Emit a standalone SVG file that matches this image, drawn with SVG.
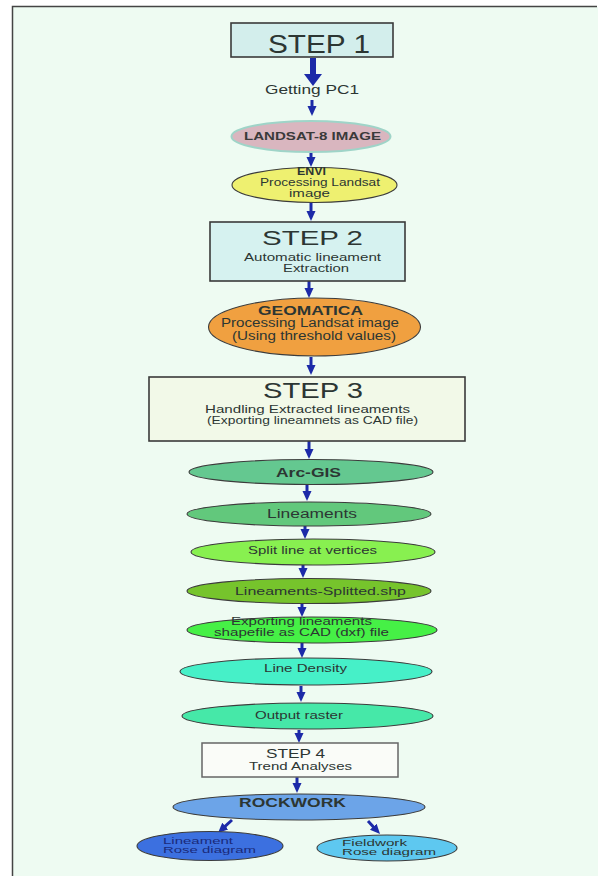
<svg xmlns="http://www.w3.org/2000/svg" width="598" height="876" viewBox="0 0 598 876">
<defs>
<style>
text{font-family:"Liberation Sans",Arial,sans-serif;fill:#2c3633}
.b{font-weight:bold}
.box{stroke:#3a3a3a;stroke-width:1.6}
.el{stroke:#3c3c3c;stroke-width:1.1}
.arr{stroke:#1c2aa8;stroke-width:3;fill:none;marker-end:url(#ah)}
</style>
<marker id="ah" markerUnits="userSpaceOnUse" markerWidth="10" markerHeight="10" refX="3" refY="4.5" orient="auto"><path d="M0,0 L10,4.5 L0,9 z" fill="#1c2aa8"/></marker>
<marker id="ahBig" markerUnits="userSpaceOnUse" markerWidth="14" markerHeight="20" refX="3" refY="9" orient="auto"><path d="M0,0 L12,9 L0,18 z" fill="#1c2aa8"/></marker>
</defs>
<rect x="0" y="0" width="598" height="876" fill="#ffffff"/>
<rect x="13" y="7" width="585" height="869" fill="#eefbf2"/>
<path d="M12.5,876 L12.5,6.5 L597,6.5" fill="none" stroke="#444" stroke-width="1.5"/>

<g id="connectors">
<line x1="313" y1="58" x2="313" y2="77" stroke="#1c2aa8" stroke-width="6" marker-end="url(#ahBig)"/>
<line class="arr" x1="312" y1="100" x2="312" y2="109"/>
<line class="arr" x1="311" y1="153" x2="311" y2="160"/>
<line class="arr" x1="311" y1="203" x2="311" y2="214"/>
<line class="arr" x1="309" y1="281" x2="309" y2="291"/>
<line class="arr" x1="311" y1="357" x2="311" y2="368"/>
<line class="arr" x1="309" y1="441" x2="309" y2="452"/>
<line class="arr" x1="307" y1="485" x2="307" y2="494"/>
<line class="arr" x1="305" y1="526" x2="305" y2="532"/>
<line class="arr" x1="303" y1="565" x2="303" y2="571"/>
<line class="arr" x1="302" y1="604" x2="302" y2="610"/>
<line class="arr" x1="302" y1="643" x2="302" y2="651"/>
<line class="arr" x1="301" y1="686" x2="301" y2="695"/>
<line class="arr" x1="299" y1="730" x2="299" y2="736"/>
<line class="arr" x1="297" y1="777" x2="297" y2="786"/>
<line class="arr" x1="232" y1="820" x2="223.1" y2="828.2"/>
<line class="arr" x1="368" y1="821" x2="375.3" y2="828.9"/>
</g>

<g id="step1">
<rect class="box" x="231" y="23" width="162" height="34" fill="#d3eeec"/>
<text x="268" y="53" font-size="25" textLength="102" lengthAdjust="spacingAndGlyphs">STEP 1</text>
</g>
<g id="getting-pc1">
<text x="265" y="94" font-size="13" textLength="94" lengthAdjust="spacingAndGlyphs">Getting PC1</text>
</g>
<g id="landsat">
<ellipse cx="311" cy="136.5" rx="79.5" ry="15.5" fill="#d9b6bf" stroke="#9fd4c8" stroke-width="2"/>
<text class="b" x="244" y="140" font-size="11" textLength="137" lengthAdjust="spacingAndGlyphs" style="fill:#3a3a3a">LANDSAT-8 IMAGE</text>
</g>
<g id="envi">
<ellipse class="el" cx="314.5" cy="185" rx="82.5" ry="17.5" fill="#eef070" stroke="#8a8a70"/>
<text class="b" x="297" y="175" font-size="10" textLength="29" lengthAdjust="spacingAndGlyphs">ENVI</text>
<text x="260" y="186" font-size="10.5" textLength="120" lengthAdjust="spacingAndGlyphs">Processing Landsat</text>
<text x="289" y="196.5" font-size="10.5" textLength="41" lengthAdjust="spacingAndGlyphs">image</text>
</g>
<g id="step2">
<rect class="box" x="210" y="222" width="195" height="59" fill="#d6f2f0"/>
<text x="262" y="245" font-size="21" textLength="101" lengthAdjust="spacingAndGlyphs">STEP 2</text>
<text x="244" y="260.5" font-size="10.5" textLength="137" lengthAdjust="spacingAndGlyphs">Automatic lineament</text>
<text x="283" y="271.5" font-size="10.5" textLength="66" lengthAdjust="spacingAndGlyphs">Extraction</text>
</g>
<g id="geomatica">
<ellipse class="el" cx="314.5" cy="327" rx="106" ry="29" fill="#f0a040"/>
<text class="b" x="258" y="314.5" font-size="12.5" textLength="105" lengthAdjust="spacingAndGlyphs">GEOMATICA</text>
<text x="221" y="327" font-size="12" textLength="178" lengthAdjust="spacingAndGlyphs">Processing Landsat image</text>
<text x="232" y="339.5" font-size="12" textLength="164" lengthAdjust="spacingAndGlyphs">(Using threshold values)</text>
</g>
<g id="step3">
<rect class="box" x="149" y="377" width="316" height="64" fill="#f2f9e8"/>
<text x="263" y="397.5" font-size="22" textLength="100" lengthAdjust="spacingAndGlyphs">STEP 3</text>
<text x="205" y="412.5" font-size="11" textLength="205" lengthAdjust="spacingAndGlyphs">Handling Extracted lineaments</text>
<text x="207" y="424" font-size="11" textLength="211" lengthAdjust="spacingAndGlyphs">(Exporting lineamnets as CAD file)</text>
</g>
<g id="arcgis">
<ellipse class="el" cx="311" cy="472" rx="122" ry="12.5" fill="#64c890"/>
<text class="b" x="276" y="477" font-size="12" textLength="65" lengthAdjust="spacingAndGlyphs">Arc-GIS</text>
</g>
<g id="lineaments">
<ellipse class="el" cx="309" cy="514" rx="122" ry="12" fill="#62c87c"/>
<text x="267" y="518" font-size="12.5" textLength="90" lengthAdjust="spacingAndGlyphs">Lineaments</text>
</g>
<g id="split">
<ellipse class="el" cx="313" cy="552" rx="122" ry="13" fill="#88f050"/>
<text x="248" y="554" font-size="11.5" textLength="129" lengthAdjust="spacingAndGlyphs">Split line at vertices</text>
</g>
<g id="splitted">
<ellipse class="el" cx="309" cy="591" rx="122" ry="12.5" fill="#76c42c"/>
<text x="235" y="595" font-size="11.5" textLength="171" lengthAdjust="spacingAndGlyphs">Lineaments-Splitted.shp</text>
</g>
<g id="exporting">
<ellipse class="el" cx="312" cy="630" rx="125" ry="13" fill="#46f046"/>
<text x="231" y="624.5" font-size="10.5" textLength="141" lengthAdjust="spacingAndGlyphs">Exporting lineaments</text>
<text x="214" y="636" font-size="10.5" textLength="175" lengthAdjust="spacingAndGlyphs">shapefile as CAD (dxf) file</text>
</g>
<g id="line-density">
<ellipse class="el" cx="306" cy="671.5" rx="126" ry="13.5" fill="#46f0c8"/>
<text x="264" y="672" font-size="11.5" textLength="83" lengthAdjust="spacingAndGlyphs">Line Density</text>
</g>
<g id="output-raster">
<ellipse class="el" cx="307.5" cy="716" rx="125.5" ry="13" fill="#46e8a8"/>
<text x="255" y="719" font-size="11.5" textLength="88" lengthAdjust="spacingAndGlyphs">Output raster</text>
</g>
<g id="step4">
<rect x="202" y="743" width="196" height="34" fill="#fafcf8" stroke="#666" stroke-width="1.5"/>
<text x="266" y="757.5" font-size="13" textLength="59" lengthAdjust="spacingAndGlyphs">STEP 4</text>
<text x="249" y="770" font-size="11.5" textLength="103" lengthAdjust="spacingAndGlyphs">Trend Analyses</text>
</g>
<g id="rockwork">
<ellipse class="el" cx="299" cy="807" rx="126" ry="13" fill="#6ca4e8"/>
<text class="b" x="239" y="807" font-size="13" textLength="107" lengthAdjust="spacingAndGlyphs">ROCKWORK</text>
</g>
<g id="lineament-rose">
<ellipse class="el" cx="210" cy="846" rx="73" ry="14.5" fill="#3c70e0"/>
<text x="163" y="843.5" font-size="9.5" textLength="70" lengthAdjust="spacingAndGlyphs" style="fill:#1a2a7a">Lineament</text>
<text x="163" y="853" font-size="9.5" textLength="93" lengthAdjust="spacingAndGlyphs" style="fill:#1a2a7a">Rose diagram</text>
</g>
<g id="fieldwork-rose">
<ellipse class="el" cx="387" cy="848" rx="70" ry="13" fill="#5ec8f0"/>
<text x="342" y="845.5" font-size="9.5" textLength="65" lengthAdjust="spacingAndGlyphs">Fieldwork</text>
<text x="342" y="855" font-size="9.5" textLength="94" lengthAdjust="spacingAndGlyphs">Rose diagram</text>
</g>
</svg>
